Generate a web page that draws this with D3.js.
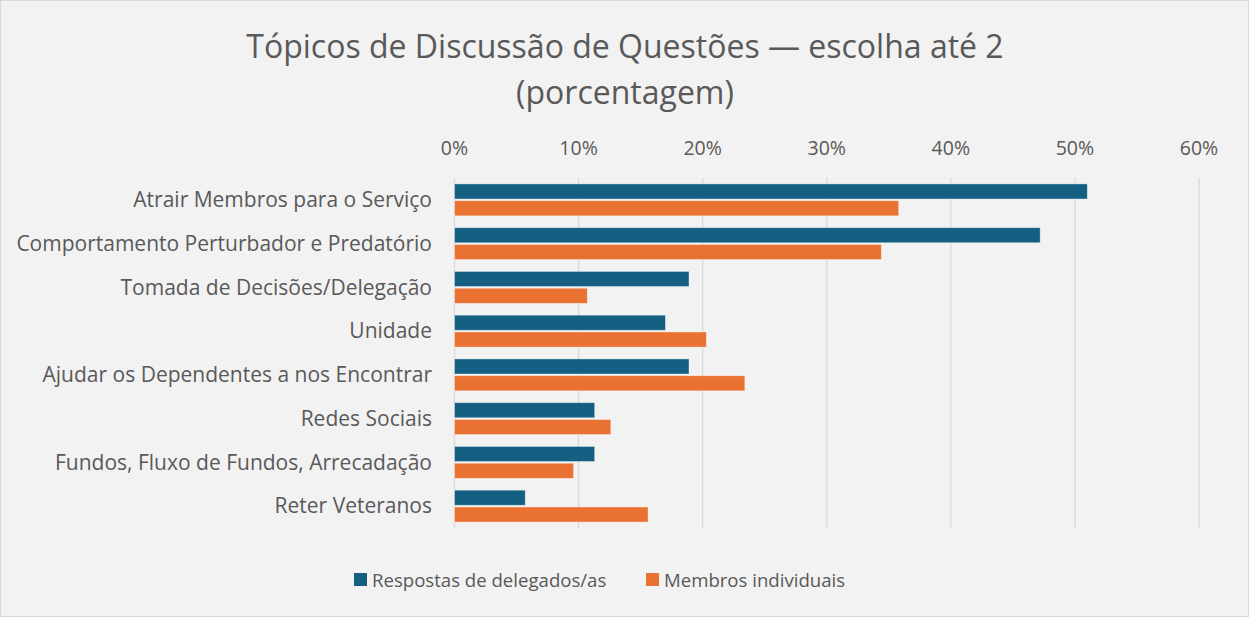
<!DOCTYPE html>
<html>
<head>
<meta charset="utf-8">
<script src="https://cdn.jsdelivr.net/npm/d3@7"></script>
<style>
  body { margin: 0; background: #fff; }
  svg text { font-family: 'Open Sans', sans-serif; fill: #595959; }
</style>
</head>
<body>
<svg id="chart" width="1249" height="617"></svg>
<script>
const categories = [
  'Atrair Membros para o Serviço',
  'Comportamento Perturbador e Predatório',
  'Tomada de Decisões/Delegação',
  'Unidade',
  'Ajudar os Dependentes a nos Encontrar',
  'Redes Sociais',
  'Fundos, Fluxo de Fundos, Arrecadação',
  'Reter Veteranos'
];
const delegados = [51.0, 47.2, 18.9, 17.0, 18.9, 11.3, 11.3, 5.7];
const individuais = [35.8, 34.4, 10.7, 20.3, 23.4, 12.6, 9.6, 15.6];
const seriesNames = ['Respostas de delegados/as', 'Membros individuais'];
const colours = ['#156082', '#E97132'];
const ticks = [0, 10, 20, 30, 40, 50, 60];

const svg = d3.select('#chart');
const width = +svg.attr('width');
const height = +svg.attr('height');

svg.append('rect')
  .attr('x', 0.5).attr('y', 0.5)
  .attr('width', width - 1).attr('height', height - 1)
  .attr('fill', '#f2f2f2')
  .attr('stroke', '#d9d9d9');

const margin = { left: 454.5, right: 50, top: 178, bottom: 89 };

const x = d3.scaleLinear()
  .domain([0, 60])
  .range([margin.left, width - margin.right]);

const y = d3.scaleBand()
  .domain(categories)
  .range([margin.top, height - margin.bottom])
  .paddingInner(0.27)
  .paddingOuter(0.135);

const ySub = d3.scaleBand()
  .domain([0, 1])
  .range([0, y.bandwidth()])
  .paddingInner(0.1);

// gridlines
svg.append('g')
  .selectAll('line')
  .data(ticks)
  .enter().append('line')
  .attr('x1', d => x(d)).attr('x2', d => x(d))
  .attr('y1', margin.top).attr('y2', height - margin.bottom)
  .attr('stroke', '#d9d9d9')
  .attr('stroke-width', 1.3);

// top axis labels
svg.append('g')
  .selectAll('text')
  .data(ticks)
  .enter().append('text')
  .attr('x', d => x(d))
  .attr('y', 155)
  .attr('text-anchor', 'middle')
  .style('font-size', '19.5px')
  .text(d => d + '%');

// bars
const rows = categories.map((c, i) => ({ cat: c, values: [delegados[i], individuais[i]] }));
const group = svg.append('g')
  .selectAll('g')
  .data(rows)
  .enter().append('g')
  .attr('transform', d => `translate(0,${y(d.cat)})`);

group.selectAll('rect')
  .data(d => d.values.map((v, s) => ({ v, s })))
  .enter().append('rect')
  .attr('x', x(0))
  .attr('y', d => ySub(d.s))
  .attr('width', d => x(d.v) - x(0))
  .attr('height', ySub.bandwidth())
  .attr('fill', d => colours[d.s])
  .attr('stroke', '#ffffff')
  .attr('stroke-opacity', 0.5)
  .attr('stroke-width', 0.8);

// category labels
svg.append('g')
  .selectAll('text')
  .data(categories)
  .enter().append('text')
  .attr('x', 432)
  .attr('y', d => y(d) + y.bandwidth() / 2)
  .attr('dy', '0.35em')
  .attr('text-anchor', 'end')
  .style('font-size', '21px')
  .text(d => d);

// title
const title = svg.append('text')
  .attr('text-anchor', 'middle')
  .style('font-size', '32px');
title.append('tspan').attr('x', 625).attr('y', 58).text('Tópicos de Discussão de Questões — escolha até 2');
title.append('tspan').attr('x', 625).attr('y', 104).text('(porcentagem)');

// legend
const legendX = [354, 646];
const legend = svg.append('g')
  .selectAll('g')
  .data(seriesNames)
  .enter().append('g')
  .attr('transform', (d, i) => `translate(${legendX[i]},573)`);
legend.append('rect')
  .attr('width', 13).attr('height', 13)
  .attr('fill', (d, i) => colours[i]);
legend.append('text')
  .attr('x', 18).attr('y', 7)
  .attr('dy', '0.35em')
  .style('font-size', '18.6px')
  .text(d => d);
</script>
</body>
</html>
